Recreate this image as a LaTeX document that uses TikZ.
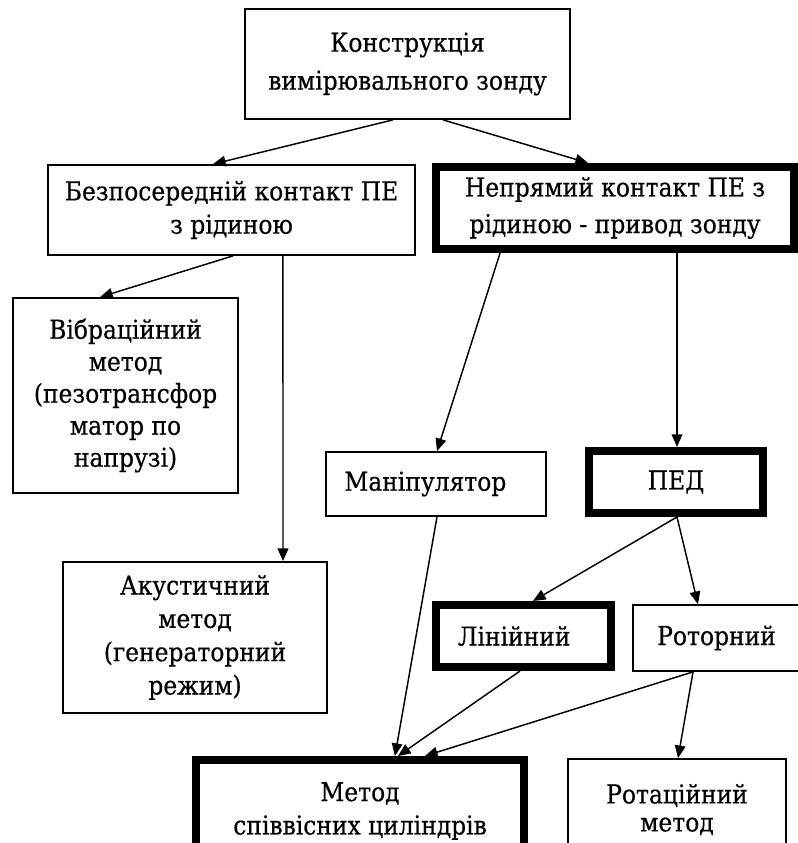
\documentclass[tikz,border=0pt]{standalone}
\usepackage{fontspec}
\newfontfamily\labelfont[FakeBold=0.5]{DejaVu Serif Condensed}
\usetikzlibrary{arrows.meta}
\begin{document}
\begin{tikzpicture}[x=0.75pt,y=-0.75pt,
  box/.style={draw=black,line width=1.3pt,rectangle,inner sep=0pt,align=center,
    font=\labelfont\fontsize{19.5}{25}\selectfont},
  boldbox/.style={box,line width=6pt},
  lead/.style={font=\labelfont\fontsize{19.5}{#1}\selectfont},
  arr/.style={line width=1.1pt,-{Triangle[length=9.5pt,width=8pt]}}]
\useasboundingbox (0,0) rectangle (798,843);

% blocks
\node[box,lead=28.5,minimum width=243.75pt,minimum height=82.5pt] (top) at (407.5,64)
  {Конструкція\\вимірювального зонду};
\node[box,minimum width=275.25pt,minimum height=67.5pt] (bezpo) at (231.5,210)
  {Безпосередній контакт ПЕ\\з рідиною};
\node[boldbox,lead=27.5,minimum width=268.5pt,minimum height=61.5pt] (nepr) at (615,208)
  {Непрямий контакт ПЕ з\\рідиною - привод зонду};
\node[box,lead=24,minimum width=168.75pt,minimum height=146.25pt] (vibr) at (125.5,395.5)
  {Вібраційний\\метод\\(пезотрансфор\\матор по\\напрузі)};
\node[box,minimum width=198pt,minimum height=113.25pt] (acou) at (195,637.5)
  {Акустичний\\метод\\(генераторний\\режим)};
\node[box,minimum width=165pt,minimum height=48pt] (manip) at (436,484)
  {Маніпулятор\kern16pt};
\node[boldbox,minimum width=130.5pt,minimum height=46.5pt] (ped) at (676,482) {ПЕД};
\node[boldbox,minimum width=131.25pt,minimum height=46.5pt] (lin) at (523.5,636)
  {Лінійний\kern14pt};
\node[box,minimum width=125.25pt,minimum height=49.5pt] (rotor) at (716.5,638) {Роторний};
\node[boldbox,minimum width=246pt,minimum height=76.5pt] (metod) at (360,811)
  {Метод\\співвісних циліндрів};
\node[box,lead=21,minimum width=163.5pt,minimum height=75.75pt] (rotat) at (677,809.5)
  {Ротаційний\\метод};

% connectors
\draw[arr] ([xshift=-10.9pt]top.south) -- ([xshift=-13.9pt]bezpo.north);
\draw[arr] ([xshift=26.6pt]top.south) -- ([xshift=-20.2pt]nepr.north);
\draw[arr] ([xshift=1.1pt]bezpo.south) -- ([xshift=-19.1pt]vibr.north);
\draw[arr] ([xshift=38.6pt]bezpo.south) -- ([xshift=66pt]acou.north);
\draw[arr] ([xshift=-86.2pt]nepr.south) -- ([xshift=0.75pt]manip.north);
\draw[arr] ([xshift=46.5pt]nepr.south) -- ([xshift=0.75pt]ped.north);
\draw[arr] ([xshift=0.75pt]ped.south) -- ([xshift=7.1pt]lin.north);
\draw[arr] ([xshift=0.75pt]ped.south) -- ([xshift=-13.9pt]rotor.north);
\draw[arr] ([xshift=0.75pt]manip.south) -- ([xshift=26.2pt]metod.north);
\draw[arr] ([xshift=-2.6pt]lin.south) -- ([xshift=28.5pt]metod.north);
\draw[arr] ([xshift=-17.6pt]rotor.south) -- ([xshift=48.7pt]metod.north);
\draw[arr] ([xshift=-17.6pt]rotor.south) -- ([xshift=0.75pt]rotat.north);
\end{tikzpicture}
\end{document}
